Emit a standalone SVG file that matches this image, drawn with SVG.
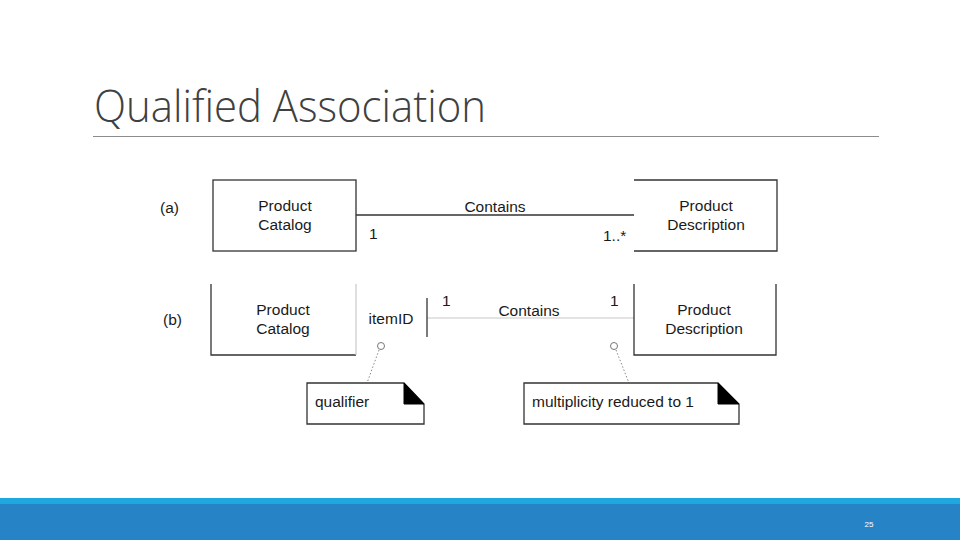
<svg xmlns="http://www.w3.org/2000/svg" width="960" height="540" viewBox="0 0 960 540">
<style>
.t{font-family:"Liberation Sans",Arial,sans-serif;font-size:15.5px;fill:#1a1a1a}
.c{text-anchor:middle}
.box{fill:#fff;stroke:#333;stroke-width:1.3}
.edge{fill:none;stroke:#333;stroke-width:1.3}
.faint{fill:none;stroke:#c8c8c8;stroke-width:1.2}
.dot{fill:none;stroke:#888;stroke-width:1;stroke-dasharray:1.5 2}
.ring{fill:#fff;stroke:#777;stroke-width:1}
</style>
<rect width="960" height="540" fill="#fff"/>
<text x="94" y="122" font-family="'Open Sans','Noto Sans',sans-serif" font-weight="300" font-size="44" fill="#404040" textLength="392" lengthAdjust="spacingAndGlyphs">Qualified Association</text>
<line x1="93" y1="136.5" x2="879" y2="136.5" stroke="#8c8c8c" stroke-width="1"/>

<g id="connectors">
  <line class="edge" x1="356" y1="215" x2="634" y2="215"/>
  <line class="faint" x1="427" y1="318" x2="634" y2="318"/>
  <line class="dot" x1="379" y1="350" x2="367" y2="383"/>
  <line class="dot" x1="616" y1="350" x2="629" y2="383"/>
</g>

<g id="label-a"><text class="t" x="160" y="213">(a)</text></g>
<g id="catalog-a">
  <rect class="box" x="213" y="180" width="143" height="71"/>
  <text class="t c" x="285" y="211">Product</text>
  <text class="t c" x="285" y="230">Catalog</text>
</g>
<g id="assoc-a-labels">
  <text class="t c" x="495" y="212">Contains</text>
  <text class="t" x="369" y="239">1</text>
  <text class="t" x="603" y="241">1..*</text>
</g>
<g id="description-a">
  <path class="edge" d="M634 180H777V251H634"/>
  <text class="t c" x="706" y="211">Product</text>
  <text class="t c" x="706" y="230">Description</text>
</g>

<g id="label-b"><text class="t" x="163" y="325">(b)</text></g>
<g id="catalog-b">
  <path class="edge" d="M211 284V355H356"/>
  <line class="faint" x1="356" y1="284" x2="356" y2="355"/>
  <text class="t c" x="283" y="315">Product</text>
  <text class="t c" x="283" y="334">Catalog</text>
</g>
<g id="qualifier-b">
  <line class="edge" x1="427" y1="298" x2="427" y2="337"/>
  <text class="t c" x="391" y="324">itemID</text>
  <circle class="ring" cx="381" cy="346" r="3.5"/>
</g>
<g id="assoc-b-labels">
  <text class="t" x="442" y="306">1</text>
  <text class="t c" x="529" y="316">Contains</text>
  <text class="t" x="610" y="306">1</text>
  <circle class="ring" cx="614" cy="346" r="3.5"/>
</g>
<g id="description-b">
  <path class="edge" d="M634 284V355H776V284"/>
  <text class="t c" x="704" y="315">Product</text>
  <text class="t c" x="704" y="334">Description</text>
</g>

<g id="note-qualifier">
  <path class="box" d="M307 383H404L424 404V424H307Z"/>
  <path d="M404 383L424 404H404Z" fill="#000" stroke="#000" stroke-width="1"/>
  <text class="t" x="315" y="407">qualifier</text>
</g>
<g id="note-multiplicity">
  <path class="box" d="M524 383H718L739 404V424H524Z"/>
  <path d="M718 383L739 404H718Z" fill="#000" stroke="#000" stroke-width="1"/>
  <text class="t" x="532" y="407">multiplicity reduced to 1</text>
</g>

<rect x="0" y="498" width="960" height="6" fill="#1fa8dd"/>
<rect x="0" y="504" width="960" height="36" fill="#2683c6"/>
<text x="869" y="527" font-family="'Liberation Sans',sans-serif" font-size="8" fill="#fff" text-anchor="middle">25</text>
</svg>
